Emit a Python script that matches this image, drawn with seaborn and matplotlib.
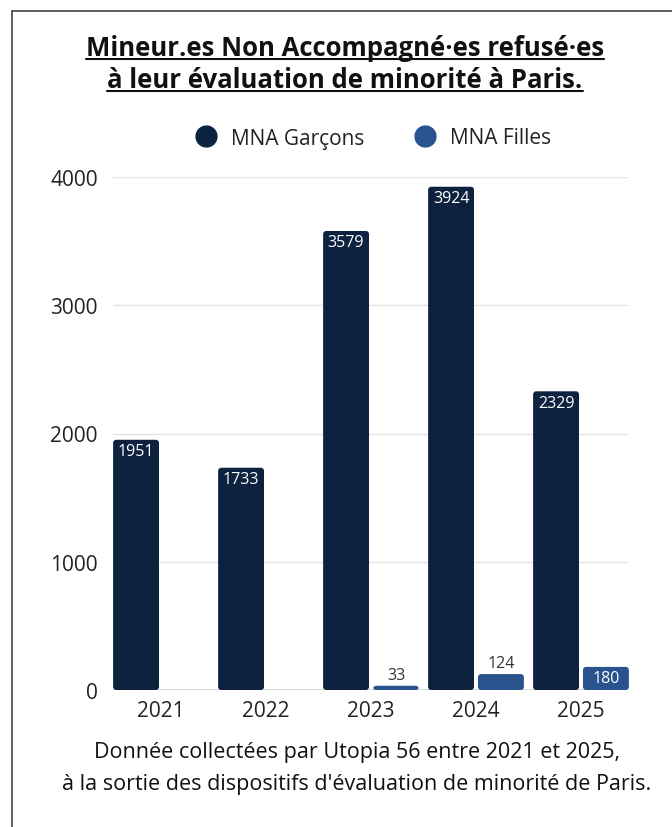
import matplotlib
matplotlib.use("Agg")

import pandas as pd
import matplotlib.pyplot as plt
import seaborn as sns
from matplotlib.patches import FancyBboxPatch
from matplotlib.lines import Line2D

# ---------- data ----------
years = ["2021", "2022", "2023", "2024", "2025"]
garcons = [1951, 1733, 3579, 3924, 2329]
filles_years = ["2023", "2024", "2025"]
filles = [33, 124, 180]

series_names = ["MNA Garçons", "MNA Filles"]
colors = ["#0c223f", "#28538e"]

title_lines = ["Mineur.es Non Accompagné·es refusé·es",
               "à leur évaluation de minorité à Paris."]
caption_lines = ["Donnée collectées par Utopia 56 entre 2021 et 2025,",
                 "à la sortie des dispositifs d'évaluation de minorité de Paris."]

df = pd.concat([
    pd.DataFrame({"annee": years, "valeur": garcons, "groupe": series_names[0]}),
    pd.DataFrame({"annee": filles_years, "valeur": filles, "groupe": series_names[1]}),
])

sns.set_theme(style="white")
plt.rcParams["font.family"] = ["Open Sans", "DejaVu Sans"]

W, H = 672, 828
AX_L, AX_R, AX_B, AX_T = 113, 628, 691, 178
fig = plt.figure(figsize=(W / 100, H / 100), dpi=100)
ax = fig.add_axes([AX_L / W, 1 - AX_B / H, (AX_R - AX_L) / W, (AX_B - AX_T) / H])

sns.barplot(data=df, x="annee", y="valeur", hue="groupe", order=years,
            hue_order=series_names, palette=colors, width=0.95, gap=0.08,
            legend=False, ax=ax)

# 105 px per category, first category centred at x=161 px
px_x = 105.0
x0 = -(161 - AX_L) / px_x
ax.set_xlim(x0, x0 + (AX_R - AX_L) / px_x)
ax.set_ylim(0, 4000)
ax.set_yticks([0, 1000, 2000, 3000, 4000])
ax.grid(axis="y", color="#e4e4e4", linewidth=1)
ax.set_axisbelow(True)
for s in ax.spines.values():
    s.set_visible(False)
ax.axhline(0, color="#d0d0d0", linewidth=1.2, zorder=0.5)
ax.set_xlabel("")
ax.set_ylabel("")
ax.tick_params(axis="y", length=0, pad=11, labelsize=15, labelcolor="#222222")
ax.tick_params(axis="x", length=0, pad=7, labelsize=15, labelcolor="#222222")

# rounded bars + value labels
px_y = (AX_B - AX_T) / 4000.0
aspect = px_x / px_y
for cont, col in zip(ax.containers, colors):
    for p, v in zip(cont.patches, cont.datavalues):
        if pd.isna(v):
            continue
        x, y, w, h = p.get_x(), p.get_y(), p.get_width(), p.get_height()
        p.set_visible(False)
        ax.add_patch(FancyBboxPatch((x, y), w, h,
                                    boxstyle="round,pad=0,rounding_size=0.03",
                                    mutation_aspect=aspect, facecolor=col,
                                    edgecolor="none", zorder=2, clip_on=False))
        cx = x + w / 2
        if v > 150:
            ax.annotate(f"{int(v)}", (cx, v), xytext=(0, -2.5), textcoords="offset points",
                        ha="center", va="top", color="white", fontsize=11.5, zorder=3)
        else:
            ax.annotate(f"{int(v)}", (cx, v), xytext=(0, 2), textcoords="offset points",
                        ha="center", va="bottom", color="#333333", fontsize=11.5, zorder=3)

# legend
handles = [Line2D([], [], marker="o", linestyle="", markersize=15,
                  markerfacecolor=c, markeredgecolor=c) for c in colors]
fig.legend(handles, series_names, loc="center", bbox_to_anchor=(368 / W, 1 - 139 / H),
           ncol=2, frameon=False, fontsize=15, handletextpad=0.2, columnspacing=1.9,
           labelcolor="#222222")

# title (underlined) and caption
tlines = []
for i, t in enumerate(title_lines):
    tlines.append(fig.text(345 / W, 1 - (48 + 32 * i) / H, t, ha="center", va="center",
                           fontsize=18.5, fontweight="bold", color="#111111"))
for i, t in enumerate(caption_lines):
    fig.text(357 / W, 1 - (753 + 32 * i) / H, t, ha="center", va="center",
             fontsize=15.5, color="#111111")

fig.canvas.draw()
r = fig.canvas.get_renderer()
for t in tlines:
    bb = t.get_window_extent(r)
    yy = (bb.y0 + 2) / H
    fig.add_artist(Line2D([bb.x0 / W, bb.x1 / W], [yy, yy], color="#111111",
                          linewidth=1.5, transform=fig.transFigure))

# frame around the card (left and top edges visible)
fig.add_artist(Line2D([12 / W, 12 / W], [0, 1 - 12 / H], color="#444444",
                      linewidth=1.2, transform=fig.transFigure))
fig.add_artist(Line2D([12 / W, 1], [1 - 12 / H, 1 - 12 / H], color="#444444",
                      linewidth=1.2, transform=fig.transFigure))

fig.savefig("out.png", dpi=100, facecolor="white")
